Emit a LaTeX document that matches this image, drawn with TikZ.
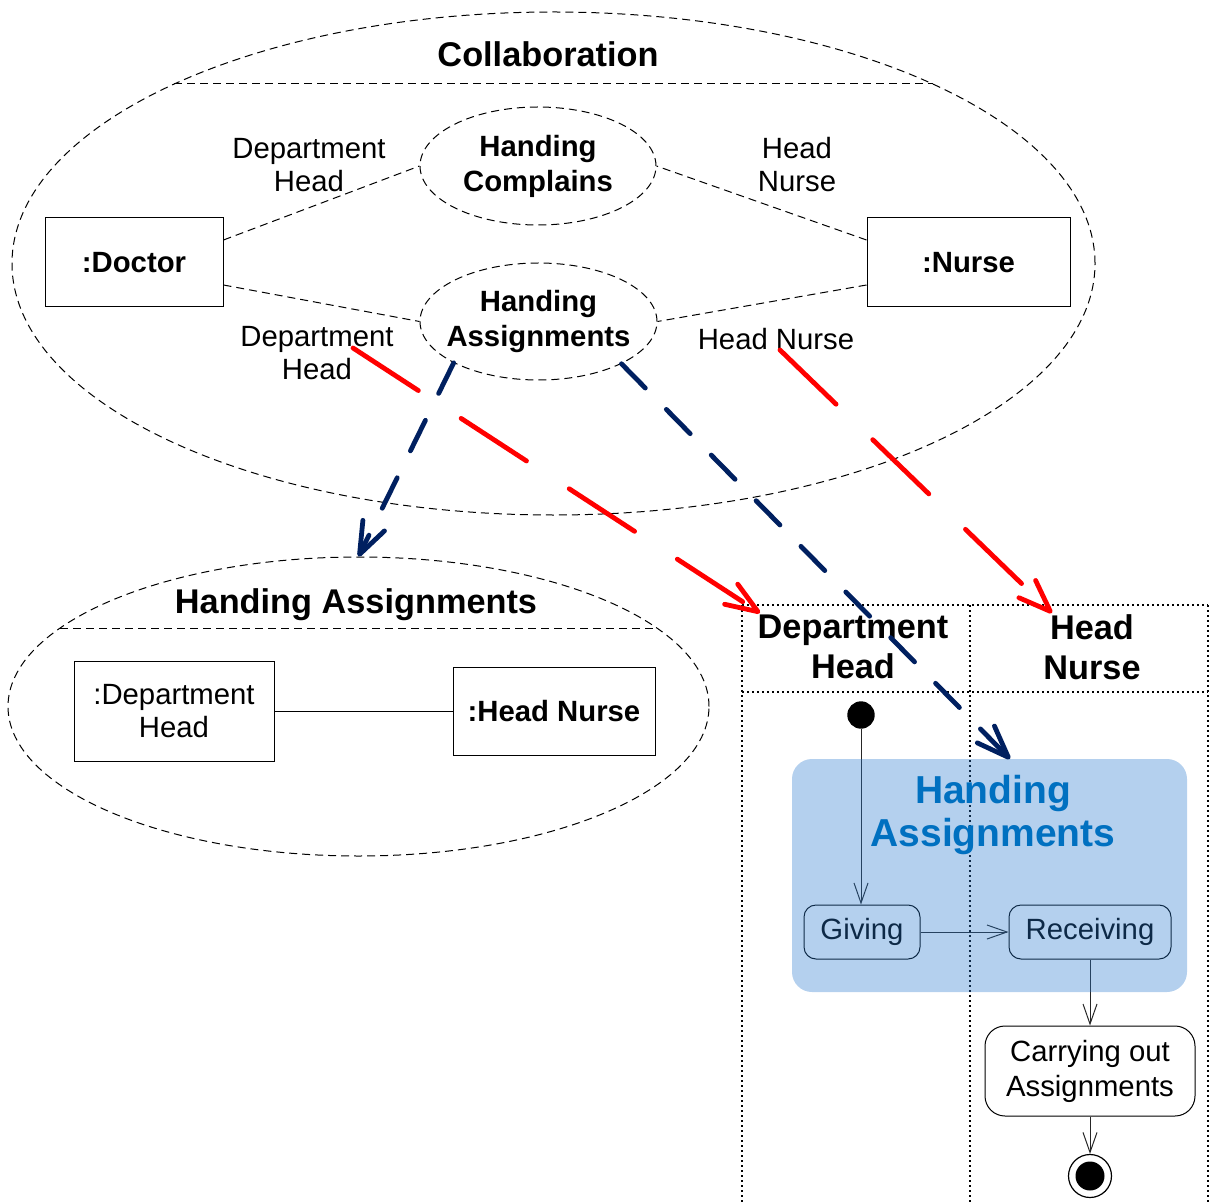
\documentclass[tikz,border=0pt]{standalone}
\usepackage{fontspec}
\setmainfont{Liberation Sans}
\usetikzlibrary{shapes.geometric,arrows.meta,calc}
\definecolor{navy}{RGB}{0,32,96}
\definecolor{hred}{RGB}{255,0,0}
\definecolor{overlayblue}{RGB}{40,120,205}
\definecolor{headblue}{RGB}{0,112,192}
\newcommand\fmain{\fontsize{14.65}{16.5}\selectfont}
\newcommand\fuc{\fontsize{14.65}{17.5}\selectfont}
\newcommand\ftitle{\fontsize{17.15}{20}\selectfont}
\newcommand\fbig{\fontsize{19.5}{21.5}\selectfont}
\begin{document}
\begin{tikzpicture}[x=0.5pt,y=-0.5pt,
  thindash/.style={line width=0.5pt, dash pattern=on 4pt off 2.5pt},
  objbox/.style={draw, line width=0.5pt, inner sep=0pt, align=center, font=\fmain},
  ucase/.style={ellipse, draw, thindash, inner sep=0pt},
  uctext/.style={inner sep=0pt, align=center, font=\fuc\bfseries},
  role/.style={inner sep=0pt, align=center, font=\fmain},
  titletext/.style={inner sep=0pt, align=center, font=\ftitle\bfseries},
  laneline/.style={line width=0.8pt, dash pattern=on 0.8pt off 1.7pt},
  actbox/.style={draw, line width=0.5pt, rounded corners=6pt, inner sep=0pt, align=center, font=\fmain},
  flow/.style={draw=black!85, line width=0.5pt, -{Straight Barb[length=10pt,width=7pt]}},
  mapred/.style={draw=hred, line width=2.4pt, line cap=round, dash pattern=on 39pt off 25.5pt, -{Straight Barb[length=16pt,width=12pt,round]}},
  mapblue/.style={draw=navy, line width=2.4pt, line cap=round, dash pattern=on 17pt off 15pt, -{Straight Barb[length=16pt,width=12pt,round]}},
]
\useasboundingbox (0,0) rectangle (1209,1203);

% ---------- Collaboration ----------
\node[ellipse, draw, thindash, minimum width=541.5pt, minimum height=251.5pt, inner sep=0pt] (collab) at (553.5,263.5) {};
\draw[thindash] ($(collab.center)+(-379.3,-179.5)$) coordinate (cl1) -- ($(collab.center)+(379.3,-179.5)$) coordinate (cl2);
\node[titletext] (collabtitle) at (548,54) {Collaboration};

\node[ucase, minimum width=118pt, minimum height=59pt] (hc) at (538,166) {};
\node[uctext] (hctext) at (hc.center) {Handing\\Complains};
\node[ucase, minimum width=118.5pt, minimum height=58.5pt] (ha) at (538.5,321.5) {};
\node[uctext] (hatext) at (ha.center) {Handing\\Assignments};
\node[objbox, font=\fmain\bfseries, minimum width=89pt, minimum height=44.5pt] (doctor) at (134,262.5) {:Doctor};
\node[objbox, font=\fmain\bfseries, minimum width=101.5pt, minimum height=44.5pt] (nurse) at (968.5,262.5) {:Nurse};

\draw[thindash] ($(doctor.north east)!0.25!(doctor.south east)$) -- (hc.west);
\draw[thindash] ($(doctor.north east)!0.75!(doctor.south east)$) -- (ha.west);
\draw[thindash] ($(nurse.north west)!0.25!(nurse.south west)$) -- (hc.east);
\draw[thindash] ($(nurse.north west)!0.75!(nurse.south west)$) -- (ha.east);

\node[role] (r1) at (309,165) {Department\\Head};
\node[role] (r2) at (797,165) {Head\\Nurse};
\node[role] (r3) at (317,353) {Department\\Head};
\node[role] (r4) at (776,339) {Head Nurse};

% ---------- Handing Assignments collaboration ----------
\node[ellipse, draw, thindash, minimum width=350.5pt, minimum height=149.5pt, inner sep=0pt] (ha2) at (358.5,706.5) {};
\draw[thindash] ($(ha2.center)+(-298.3,-78.5)$) coordinate (hl1) -- ($(ha2.center)+(298.3,-78.5)$) coordinate (hl2);
\node[titletext] (ha2title) at (356,605) {Handing Assignments};
\node[objbox, minimum width=100pt, minimum height=50pt] (dh) at (174,711) {:Department\\Head};
\node[objbox, font=\fmain\bfseries, minimum width=101pt, minimum height=44pt] (hn) at (554,711) {:Head Nurse};
\draw[line width=0.5pt] (dh) -- (hn);

% ---------- Swimlanes ----------
\coordinate (ltl) at (742,605);
\coordinate (ltm) at (970,605);
\coordinate (ltr) at (1208,605);
\coordinate (lbl) at (742,1203);
\coordinate (lbm) at (970,1203);
\coordinate (lbr) at (1208,1203);
\draw[laneline] (ltl) -- (ltr);
\draw[laneline] (742,692) coordinate (lsl) -- (1208,692) coordinate (lsr);
\draw[laneline] (ltl) -- (lbl);
\draw[laneline] (ltm) -- (lbm);
\draw[laneline] (ltr) -- (lbr);
\node[titletext] (lh1) at (853,647) {Department\\Head};
\node[titletext] (lh2) at (1092,647) {Head\\Nurse};

% ---------- Activity ----------
\node[circle, fill=black, minimum size=13.7pt, inner sep=0pt] (init) at (861,715) {};
\node[actbox, minimum width=58pt, minimum height=27pt] (giving) at (862,932) {Giving};
\node[actbox, minimum width=81pt, minimum height=27pt] (receiving) at (1090,932) {Receiving};
\node[actbox, rounded corners=10pt, minimum width=105pt, minimum height=45pt, font=\fuc] (carrying) at (1090,1071) {Carrying out\\Assignments};
\node[circle, draw, line width=0.6pt, minimum size=21.5pt, inner sep=0pt] (fin) at (1090,1176) {};
\node[circle, fill=black, minimum size=14.5pt, inner sep=0pt] (fininner) at (fin.center) {};
\draw[flow] (init) -- (init |- giving.north);
\draw[flow] (giving) -- (receiving);
\draw[flow] (receiving) -- (carrying);
\draw[flow] (carrying) -- (fin);

\node[fill=overlayblue, fill opacity=0.35, rounded corners=10pt, minimum width=197.5pt, minimum height=116.5pt, inner sep=0pt] (act) at (989.5,875.5) {};
\node[inner sep=0pt, align=center, font=\fbig\bfseries, text=headblue] (acttitle) at (993,815) {Handing\\Assignments};

% ---------- Mapping arrows ----------
\coordinate (r1s) at (353,348);
\coordinate (r1e) at (760,613);
\coordinate (r2s) at (780,350);
\coordinate (r2e) at (1052,613);
\coordinate (b2e) at (1010,759);
\draw[mapred] (r1s) -- (r1e);
\draw[mapred] (r2s) -- (r2e);
\draw[mapblue] (ha.206) -- (ha2.north);
\draw[mapblue] (ha.333) -- (b2e);
\end{tikzpicture}
\end{document}
